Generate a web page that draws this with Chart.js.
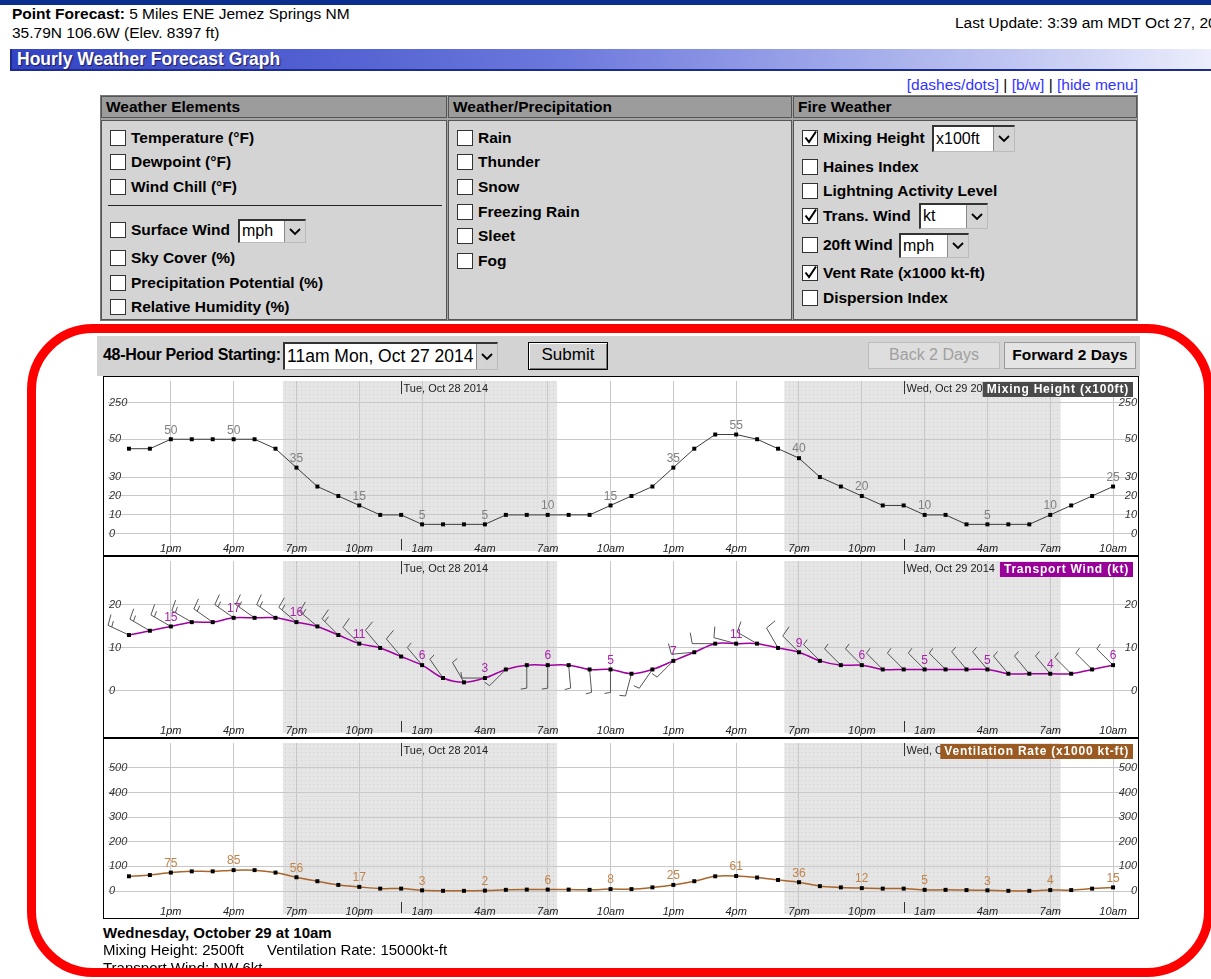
<!DOCTYPE html>
<html lang="en">
<head>
<meta charset="UTF-8">
<title>Hourly Weather Forecast Graph</title>
<script src="https://cdn.jsdelivr.net/npm/chart.js@4.4.1/dist/chart.umd.min.js"></script>
<style>
    body {
        margin: 0;
        width: 1211px;
        height: 979px;
        overflow: hidden;
        position: relative;
        background: #fff;
        color: #000;
        font-family: Arial, "Liberation Sans", sans-serif;
    }
    .abs { position: absolute; white-space: nowrap; }

    /* page header */
    .topbar { left: 0; top: 0; width: 1211px; height: 5px; background: #0b2f8e; }
    .head { font-size: 15.5px; line-height: 18px; }
    .titlebar {
        left: 10px; top: 49px; width: 1201px; height: 22px; box-sizing: border-box;
        background: linear-gradient(to right, #3343c4, #6a77dc 45%, #c3c9f2 85%, #eceefc);
        border-left: 2px solid #1c2c8c; border-bottom: 2px solid #1c2c8c;
        color: #fff; font-weight: bold; font-size: 17.5px; line-height: 20px; padding-left: 5px;
        text-shadow: 1px 1px 1px #1a1a60;
    }
    .links { right: 73px; top: 76px; font-size: 15.5px; line-height: 18px; }
    .links a { color: #3333ff; text-decoration: none; }

    /* element menu */
    .frame { left: 100px; top: 95px; width: 1038px; height: 226px; background: #a4a4a4; border: 1px solid #777; box-sizing: border-box; }
    .colh {
        position: absolute; top: 96px; height: 22px; box-sizing: border-box;
        background: #9c9c9c; border: 1px solid #555;
        font-weight: bold; font-size: 15.5px; line-height: 20px; padding-left: 4px;
    }
    .colb { position: absolute; top: 120px; height: 200px; box-sizing: border-box; background: #d4d4d4; border: 1px solid #555; }
    .item { position: absolute; font-weight: bold; font-size: 15.5px; line-height: 16px; height: 16px; white-space: nowrap; }
    .cb {
        display: inline-block; width: 16px; height: 16px; box-sizing: border-box;
        background: #fff; border: 1px solid #333; vertical-align: -3px; margin-right: 5px; position: relative;
    }
    .cb svg { position: absolute; left: 0; top: -1px; }
    .sel {
        position: absolute; background: #fff; box-sizing: border-box;
        border-top: 2px solid #333; border-left: 2px solid #333; border-right: 1px solid #bbb; border-bottom: 1px solid #bbb;
        font-size: 16px; line-height: 20px; padding-left: 2px; white-space: nowrap;
    }
    .sel .arr {
        position: absolute; right: 0; top: 0; bottom: 0; width: 20px; background: #d4d4d4;
        border-left: 1px solid #888; display: flex; align-items: center; justify-content: center;
    }

    /* period row */
    .band { left: 97px; top: 336px; width: 1043px; height: 40px; background: #d3d3d3; }
    .btn {
        position: absolute; box-sizing: border-box; text-align: center; white-space: nowrap;
        font-size: 16px; line-height: 23px;
    }

    /* graph */
    .graph { left: 103px; top: 376px; width: 1036px; height: 543px; border: 1px solid #000; box-sizing: border-box; background: #fff; }
    .graph canvas { display: block; }
    .sep { height: 2px; background: #000; }

    .foot { font-size: 15px; line-height: 17px; }
    .ring {
        left: 27px; top: 324px; width: 1186px; height: 653px; box-sizing: border-box;
        border: 9px solid #ff0000; border-radius: 66px; z-index: 10;
    }
</style>
</head>
<body>

<div class="abs topbar"></div>
<div class="abs head" style="left:12px;top:5px;"><b>Point Forecast:</b> 5 Miles ENE Jemez Springs NM</div>
<div class="abs head" style="left:12px;top:24px;">35.79N 106.6W (Elev. 8397 ft)</div>
<div class="abs head" style="left:955px;top:14px;">Last Update: 3:39 am MDT Oct 27, 2014</div>
<div class="abs titlebar">Hourly Weather Forecast Graph</div>
<div class="abs links"><a>[dashes/dots]</a> | <a>[b/w]</a> | <a>[hide menu]</a></div>

<!-- element menu -->
<div class="abs frame"></div>
<div class="colh" style="left:101px;width:346px;">Weather Elements</div>
<div class="colh" style="left:448px;width:344px;">Weather/Precipitation</div>
<div class="colh" style="left:793px;width:344px;">Fire Weather</div>
<div class="colb" style="left:101px;width:346px;"></div>
<div class="colb" style="left:448px;width:344px;"></div>
<div class="colb" style="left:793px;width:344px;"></div>

<div class="item" style="left:110px;top:130px;"><span class="cb"></span>Temperature (°F)</div>
<div class="item" style="left:110px;top:154px;"><span class="cb"></span>Dewpoint (°F)</div>
<div class="item" style="left:110px;top:179px;"><span class="cb"></span>Wind Chill (°F)</div>
<div class="abs" style="left:108px;top:205px;width:334px;height:1px;background:#222;"></div>
<div class="item" style="left:110px;top:222px;"><span class="cb"></span>Surface Wind</div>
<div class="sel" style="left:238px;top:219px;width:68px;height:24px;">mph<span class="arr"><svg width="12" height="8"><polyline points="1,1 6,6 11,1" stroke="#000" stroke-width="1.8" fill="none"/></svg></span></div>
<div class="item" style="left:110px;top:250px;"><span class="cb"></span>Sky Cover (%)</div>
<div class="item" style="left:110px;top:275px;"><span class="cb"></span>Precipitation Potential (%)</div>
<div class="item" style="left:110px;top:299px;"><span class="cb"></span>Relative Humidity (%)</div>

<div class="item" style="left:457px;top:130px;"><span class="cb"></span>Rain</div>
<div class="item" style="left:457px;top:154px;"><span class="cb"></span>Thunder</div>
<div class="item" style="left:457px;top:179px;"><span class="cb"></span>Snow</div>
<div class="item" style="left:457px;top:204px;"><span class="cb"></span>Freezing Rain</div>
<div class="item" style="left:457px;top:228px;"><span class="cb"></span>Sleet</div>
<div class="item" style="left:457px;top:253px;"><span class="cb"></span>Fog</div>

<div class="item" style="left:802px;top:130px;"><span class="cb"><svg width="16" height="16"><path d="M2.5 7.5 L6 12 L13 1.5" stroke="#000" stroke-width="2" fill="none"/></svg></span>Mixing Height</div>
<div class="sel" style="left:932px;top:125px;width:83px;height:27px;line-height:23px;">x100ft<span class="arr"><svg width="12" height="8"><polyline points="1,1 6,6 11,1" stroke="#000" stroke-width="1.8" fill="none"/></svg></span></div>
<div class="item" style="left:802px;top:159px;"><span class="cb"></span>Haines Index</div>
<div class="item" style="left:802px;top:183px;"><span class="cb"></span>Lightning Activity Level</div>
<div class="item" style="left:802px;top:208px;"><span class="cb"><svg width="16" height="16"><path d="M2.5 7.5 L6 12 L13 1.5" stroke="#000" stroke-width="2" fill="none"/></svg></span>Trans. Wind</div>
<div class="sel" style="left:919px;top:203px;width:69px;height:26px;line-height:22px;">kt<span class="arr"><svg width="12" height="8"><polyline points="1,1 6,6 11,1" stroke="#000" stroke-width="1.8" fill="none"/></svg></span></div>
<div class="item" style="left:802px;top:237px;"><span class="cb"></span>20ft Wind</div>
<div class="sel" style="left:899px;top:233px;width:70px;height:25px;line-height:21px;">mph<span class="arr"><svg width="12" height="8"><polyline points="1,1 6,6 11,1" stroke="#000" stroke-width="1.8" fill="none"/></svg></span></div>
<div class="item" style="left:802px;top:265px;"><span class="cb"><svg width="16" height="16"><path d="M2.5 7.5 L6 12 L13 1.5" stroke="#000" stroke-width="2" fill="none"/></svg></span>Vent Rate (x1000 kt-ft)</div>
<div class="item" style="left:802px;top:290px;"><span class="cb"></span>Dispersion Index</div>

<!-- period row -->
<div class="abs band"></div>
<div class="abs" style="left:103px;top:346px;font-weight:bold;font-size:16px;line-height:18px;letter-spacing:-0.3px;">48-Hour Period Starting:</div>
<div class="sel" style="left:283px;top:342px;width:215px;height:28px;line-height:24px;font-size:17.5px;">11am Mon, Oct 27 2014<span class="arr"><svg width="12" height="8"><polyline points="1,1 6,6 11,1" stroke="#000" stroke-width="1.8" fill="none"/></svg></span></div>
<div class="btn" style="left:528px;top:342px;width:80px;height:28px;background:#d4d4d4;border:1px solid #000;box-shadow:inset 1px 1px #fff, inset -1px -1px #777;font-size:17px;">Submit</div>
<div class="btn" style="left:868px;top:342px;width:132px;height:27px;background:#dedede;border:1px solid #bbb;color:#a0a0a0;">Back 2 Days</div>
<div class="btn" style="left:1004px;top:342px;width:132px;height:27px;background:#e4e4e4;border:1px solid #999;font-weight:bold;font-size:15.5px;">Forward 2 Days</div>

<!-- graph -->
<div class="abs graph">
    <canvas id="mixChart" width="1034" height="178"></canvas>
    <div class="sep"></div>
    <canvas id="windChart" width="1034" height="180"></canvas>
    <div class="sep"></div>
    <canvas id="ventChart" width="1034" height="179"></canvas>
</div>

<div class="abs foot" style="left:103px;top:924px;font-weight:bold;">Wednesday, October 29 at 10am</div>
<div class="abs foot" style="left:103px;top:941px;">Mixing Height: 2500ft</div>
<div class="abs foot" style="left:267px;top:941px;">Ventilation Rate: 15000kt-ft</div>
<div class="abs foot" style="left:103px;top:959px;">Transport Wind: NW 6kt</div>

<div class="abs ring"></div>

<script>
    // 48 hourly steps, 11am Mon Oct 27 .. 10am Wed Oct 29
    const hourLabels = [
        '11am', '12pm', '1pm', '2pm', '3pm', '4pm', '5pm', '6pm', '7pm', '8pm', '9pm', '10pm',
        '11pm', '12am', '1am', '2am', '3am', '4am', '5am', '6am', '7am', '8am', '9am', '10am',
        '11am', '12pm', '1pm', '2pm', '3pm', '4pm', '5pm', '6pm', '7pm', '8pm', '9pm', '10pm',
        '11pm', '12am', '1am', '2am', '3am', '4am', '5am', '6am', '7am', '8am', '9am', '10am'
    ];

    // Mixing height (x100 ft)
    const mixingHeight = [
        45, 45, 50, 50, 50, 50, 50, 45, 35, 25, 20, 15, 10, 10, 5, 5, 5, 5, 10, 10, 10, 10, 10, 15,
        20, 25, 35, 45, 55, 55, 50, 45, 40, 30, 25, 20, 15, 15, 10, 10, 5, 5, 5, 5, 10, 15, 20, 25
    ];

    // Transport wind speed (kt) and direction (deg, from)
    const transportWind = [
        13, 14, 15, 16, 16, 17, 17, 17, 16, 15, 13, 11, 10, 8, 6, 3, 2, 3, 5, 6, 6, 6, 5, 5,
        4, 5, 7, 9, 11, 11, 11, 10, 9, 7, 6, 6, 5, 5, 5, 5, 5, 5, 4, 4, 4, 4, 5, 6
    ];
    const transportDir = [
        295, 300, 300, 300, 305, 305, 305, 305, 310, 310, 315, 315, 320, 320, 320, 325, 330, 270, 225, 180, 180, 175, 175, 180,
        195, 215, 225, 265, 270, 285, 300, 330, 315, 315, 315, 315, 315, 315, 315, 315, 320, 320, 320, 320, 320, 315, 315, 315
    ];

    // Ventilation rate (x1000 kt-ft)
    const ventRate = [
        60, 65, 75, 80, 80, 85, 85, 75, 56, 40, 25, 17, 10, 10, 3, 1, 1, 2, 5, 6, 6, 6, 5, 8,
        8, 15, 25, 40, 60, 61, 55, 45, 36, 20, 15, 12, 10, 10, 5, 5, 4, 3, 1, 1, 4, 4, 10, 15
    ];

    // y grid lines / labelled ticks
    const mixTicks = [0, 10, 20, 30, 50, 250];
    const windTicks = [0, 10, 20];
    const ventTicks = [0, 100, 200, 300, 400, 500];

    // day markers and night shading (hour index)
    const dayLabels = ['Tue, Oct 28 2014', 'Wed, Oct 29 2014'];
    const midnightIdx = [13, 37];
    const nightStart = [7.35, 31.3];
    const nightEnd = [20.45, 44.5];

    Chart.defaults.font.family = 'Arial, "Liberation Sans", sans-serif';

    // mixing height axis: linear up to 50, squeezed above
    function mixFwd(v) { return v <= 50 ? v : 50 + 6.42 * Math.log(1 + (v - 50) / 10.5); }
    function mixInv(t) { return t <= 50 ? t : 50 + 10.5 * (Math.exp((t - 50) / 6.42) - 1); }

    class MixScale extends Chart.LinearScale {
        configure() {
            super.configure();
            this._t0 = mixFwd(this.min);
            this._tr = mixFwd(this.max) - this._t0;
        }
        getPixelForValue(v) {
            return this.getPixelForDecimal((mixFwd(v) - this._t0) / this._tr);
        }
        getValueForPixel(p) {
            return mixInv(this._t0 + this.getDecimalForPixel(p) * this._tr);
        }
    }
    MixScale.id = 'mixscale';
    MixScale.defaults = Chart.LinearScale.defaults;
    Chart.register(MixScale);

    function zeroPad(s) {
        s.paddingLeft = s.paddingRight = s.paddingTop = s.paddingBottom = 0;
    }

    function xAxis() {
        return {
            type: 'linear', min: -1, max: 48, bounds: 'data',
            afterBuildTicks: s => {
                s.ticks = [];
                for (let i = -1; i <= 48; i++) s.ticks.push({value: i});
            },
            ticks: {
                autoSkip: false, maxRotation: 0, minRotation: 0, mirror: true, padding: -5,
                color: '#222', font: {size: 11, style: 'italic'},
                callback: v => (v >= 0 && v < 48 && (v - 2) % 3 === 0) ? hourLabels[v] : null
            },
            grid: {color: '#c8c8c8', drawTicks: false},
            border: {display: false},
            afterFit: s => { s.height = 0; zeroPad(s); }
        };
    }

    function yAxis(pos, c) {
        return {
            type: c.type, position: pos, min: c.min, max: c.max, bounds: 'data',
            afterBuildTicks: s => { s.ticks = c.ticks.map(v => ({value: v})); },
            ticks: {
                mirror: true, padding: pos === 'left' ? 1 : 3,
                color: '#333', font: {size: 11, style: 'italic'},
                callback: v => String(v)
            },
            grid: {display: pos === 'left', color: '#c8c8c8', drawTicks: false},
            border: {display: false},
            afterFit: s => { s.width = 0; zeroPad(s); }
        };
    }

    let nightFill = null;
    function nightPattern(ctx) {
        if (nightFill) return nightFill;
        const c = document.createElement('canvas');
        c.width = 4; c.height = 4;
        const g = c.getContext('2d');
        g.fillStyle = '#e5e5e5'; g.fillRect(0, 0, 4, 4);
        g.fillStyle = '#cfcfcf'; g.fillRect(1, 1, 1, 1);
        nightFill = ctx.createPattern(c, 'repeat');
        return nightFill;
    }

    function drawBarb(ctx, x, y, dir, spd) {
        const r = dir * Math.PI / 180;
        const dx = Math.sin(r), dy = -Math.cos(r);
        const px = -dy, py = dx;
        const L = 23;
        const tx = x + dx * L, ty = y + dy * L;
        ctx.beginPath();
        ctx.moveTo(x, y);
        ctx.lineTo(tx, ty);
        let s = Math.max(5, Math.round(spd / 5) * 5);
        let off = 0;
        while (s >= 10) {
            const bx = tx - dx * off, by = ty - dy * off;
            ctx.moveTo(bx, by);
            ctx.lineTo(bx + px * 11 + dx * 2, by + py * 11 + dy * 2);
            s -= 10; off += 4;
        }
        if (s >= 5) {
            const bx = tx - dx * off, by = ty - dy * off;
            ctx.moveTo(bx, by);
            ctx.lineTo(bx + px * 6 + dx * 1, by + py * 6 + dy * 1);
        }
        ctx.stroke();
    }

    const overlay = {
        id: 'overlay',
        beforeDraw(chart, args, o) {
            const {ctx, chartArea: a} = chart;
            const x = chart.scales.x;
            ctx.save();
            ctx.fillStyle = nightPattern(ctx);
            nightStart.forEach((s, i) => {
                const x0 = x.getPixelForValue(s), x1 = x.getPixelForValue(nightEnd[i]);
                ctx.fillRect(x0, a.top, x1 - x0, a.bottom - a.top);
            });
            ctx.restore();
        },
        beforeDatasetsDraw(chart, args, o) {
            if (!o.barbs) return;
            const ctx = chart.ctx;
            const meta = chart.getDatasetMeta(0);
            ctx.save();
            ctx.strokeStyle = '#555';
            ctx.lineWidth = 1;
            meta.data.forEach((pt, i) => drawBarb(ctx, pt.x, pt.y, o.barbs[i], o.values[i]));
            ctx.restore();
        },
        afterDatasetsDraw(chart, args, o) {
            const {ctx, chartArea: a} = chart;
            const x = chart.scales.x;
            const meta = chart.getDatasetMeta(0);
            ctx.save();

            // values every 3 hours
            ctx.font = '12px Arial';
            ctx.fillStyle = o.labelColor;
            ctx.textAlign = 'center';
            ctx.textBaseline = 'middle';
            meta.data.forEach((pt, i) => {
                if ((i - 2) % 3 === 0) ctx.fillText(String(o.values[i]), pt.x, pt.y - 9);
            });

            // day markers
            ctx.font = '11px Arial';
            ctx.fillStyle = '#222';
            ctx.strokeStyle = '#333';
            ctx.lineWidth = 1;
            ctx.textAlign = 'left';
            midnightIdx.forEach((m, i) => {
                const px = Math.round(x.getPixelForValue(m)) + 0.5;
                ctx.beginPath();
                ctx.moveTo(px, a.top); ctx.lineTo(px, a.top + 13);
                ctx.moveTo(px, a.bottom - 12); ctx.lineTo(px, a.bottom - 1);
                ctx.stroke();
                ctx.fillText(dayLabels[i], px + 2, a.top + 7.5);
            });

            // series title box
            ctx.font = 'bold 12px Arial';
            ctx.letterSpacing = '0.8px';
            const w = ctx.measureText(o.title).width + 8;
            ctx.fillStyle = o.titleBg;
            ctx.fillRect(a.right - w - 1, a.top + 1, w, 15);
            ctx.fillStyle = '#fff';
            ctx.textAlign = 'center';
            ctx.fillText(o.title, a.right - 1 - w / 2, a.top + 9);
            ctx.restore();
        }
    };

    function makeChart(id, c) {
        return new Chart(document.getElementById(id), {
            type: 'line',
            data: {
                datasets: [{
                    data: c.values.map((v, i) => ({x: i, y: v})),
                    borderColor: c.color,
                    borderWidth: c.width,
                    tension: c.tension,
                    pointStyle: 'rect',
                    pointRadius: 2.8,
                    pointBackgroundColor: '#000',
                    pointBorderWidth: 0,
                    yAxisID: 'y'
                }]
            },
            options: {
                responsive: false,
                animation: false,
                events: [],
                layout: {padding: 0},
                scales: {x: xAxis(), y: yAxis('left', c), y2: yAxis('right', c)},
                plugins: {
                    legend: {display: false},
                    tooltip: {enabled: false},
                    overlay: {
                        values: c.values, labelColor: c.labelColor,
                        title: c.title, titleBg: c.titleBg, barbs: c.barbs || null
                    }
                }
            },
            plugins: [overlay]
        });
    }

    makeChart('mixChart', {
        type: 'mixscale', min: -9.09, max: mixInv(80.8), ticks: mixTicks,
        values: mixingHeight, color: '#3c3c3c', width: 1, tension: 0,
        labelColor: '#808080', title: 'Mixing Height (x100ft)', titleBg: '#4a4a4a'
    });

    makeChart('windChart', {
        type: 'linear', min: -9.78, max: 30.22, ticks: windTicks,
        values: transportWind, color: '#a000a0', width: 1.5, tension: 0.35,
        labelColor: '#a822a8', title: 'Transport Wind (kt)', titleBg: '#990099',
        barbs: transportDir
    });

    makeChart('ventChart', {
        type: 'linear', min: -93, max: 600.8, ticks: ventTicks,
        values: ventRate, color: '#a8652c', width: 1.5, tension: 0.3,
        labelColor: '#c0844a', title: 'Ventilation Rate (x1000 kt-ft)', titleBg: '#9a5a22'
    });
</script>
</body>
</html>
